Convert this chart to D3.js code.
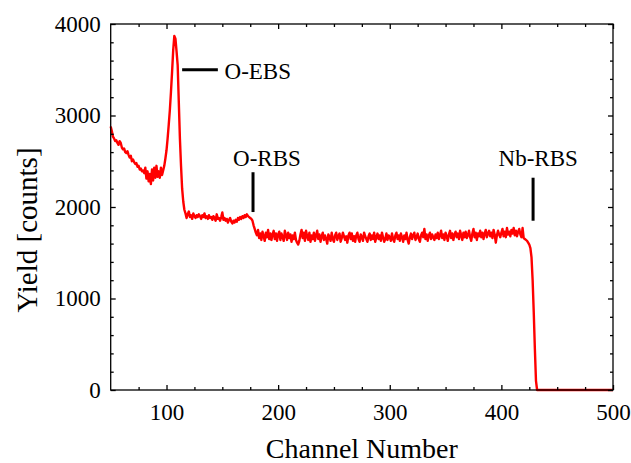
<!DOCTYPE html>
<html>
<head>
<meta charset="utf-8">
<script src="https://cdn.jsdelivr.net/npm/d3@7"></script>
<style>
  html, body { margin: 0; padding: 0; background: #fff; }
  svg { display: block; }
</style>
</head>
<body>
<svg id="chart" width="631" height="463"></svg>
<script>
// ---- data ----
const channelStart = 50;
const yields = [
  2880, 2830, 2770, 2750, 2720, 2730, 2700, 2680, 2720, 2700,
  2650, 2630, 2640, 2600, 2590, 2610, 2570, 2540, 2560, 2500,
  2520, 2490, 2470, 2480, 2440, 2450, 2410, 2420, 2390, 2400,
  2370, 2430, 2310, 2390, 2280, 2360, 2250, 2410, 2290, 2430,
  2320, 2450, 2330, 2390, 2320, 2430, 2350,
  2400, 2450, 2530, 2620, 2750, 2900, 3060, 3260, 3480, 3715, 3870, 3840, 3700, 3550, 3150, 2750, 2450, 2200, 2060, 1970, 1930,
  1880, 1920, 1950, 1890, 1910, 1870, 1930, 1900, 1880, 1910, 1890, 1920,
  1900, 1870, 1910, 1890, 1930, 1880, 1900, 1870, 1910, 1880,
  1890, 1860, 1900, 1880, 1850, 1920, 1870, 1880, 1850, 1890,
  1940, 1860, 1880, 1850, 1870, 1830, 1860, 1880, 1840, 1820,
  1850, 1830, 1860, 1840, 1880, 1860, 1890, 1870, 1900, 1880,
  1910, 1890, 1920, 1900, 1890, 1880, 1870, 1850, 1800, 1760,
  1720, 1690, 1750, 1660, 1710, 1640, 1730, 1680, 1630, 1720,
  1670, 1750, 1650, 1710, 1640, 1700, 1740, 1650, 1710, 1630,
  1700, 1730, 1640, 1710, 1670, 1630, 1740, 1690, 1640, 1720,
  1660, 1700, 1620, 1690, 1650, 1720, 1640, 1610, 1590, 1630,
  1700, 1750, 1660, 1720, 1630, 1740, 1680, 1640, 1720, 1620,
  1690, 1650, 1720, 1630, 1690, 1740, 1650, 1700, 1620, 1680,
  1720, 1640, 1690, 1650, 1600, 1700, 1670, 1630, 1720, 1650,
  1620, 1690, 1720, 1640, 1680, 1710, 1620, 1660, 1720, 1680,
  1640, 1680, 1610, 1690, 1720, 1650, 1710, 1630, 1680, 1620,
  1690, 1720, 1650, 1620, 1700, 1670, 1630, 1720, 1680, 1650,
  1620, 1680, 1710, 1640, 1690, 1650, 1720, 1620, 1670, 1710,
  1650, 1690, 1630, 1720, 1670, 1620, 1650, 1710, 1640, 1690,
  1670, 1630, 1710, 1650, 1620, 1690, 1720, 1650, 1690, 1630,
  1710, 1670, 1620, 1690, 1650, 1720, 1640, 1600, 1670, 1710,
  1650, 1690, 1720, 1640, 1670, 1710, 1650, 1620, 1690, 1720,
  1670, 1760, 1650, 1700, 1630, 1690, 1720, 1650, 1700, 1670,
  1640, 1700, 1660, 1720, 1650, 1690, 1740, 1660, 1700, 1640,
  1720, 1680, 1630, 1700, 1740, 1660, 1710, 1640, 1700, 1730,
  1670, 1710, 1650, 1740, 1690, 1640, 1720, 1670, 1730, 1660,
  1690, 1740, 1670, 1630, 1710, 1760, 1670, 1720, 1640, 1710,
  1680, 1740, 1670, 1720, 1650, 1710, 1750, 1670, 1710, 1740,
  1680, 1720, 1660, 1750, 1700, 1610, 1690, 1740, 1700, 1670,
  1720, 1760, 1680, 1730, 1670, 1770, 1700, 1730, 1680, 1750,
  1710, 1770, 1690, 1740, 1680, 1730, 1760, 1700, 1670, 1770,
  1660, 1650, 1640, 1630, 1610, 1590, 1550, 1450, 1200, 850, 450, 100,
  0, 0, 0, 0, 0, 0, 0, 0, 0, 0,
  0, 0, 0, 0, 0, 0, 0, 0, 0, 0,
  0, 0, 0, 0, 0, 0, 0, 0, 0, 0,
  0, 0, 0, 0, 0, 0, 0, 0, 0, 0,
  0, 0, 0, 0, 0, 0, 0, 0, 0, 0,
  0, 0, 0, 0, 0, 0, 0, 0, 0, 0,
  0, 0, 0, 0, 0, 0, 0, 0, 0
];
const xTicks = [100, 200, 300, 400, 500];
const xMinorTicks = [75, 125, 150, 175, 225, 250, 275, 325, 350, 375, 425, 450, 475];
const yTicks = [0, 1000, 2000, 3000, 4000];
const yMinorTicks = [200, 400, 600, 800, 1200, 1400, 1600, 1800, 2200, 2400, 2600, 2800, 3200, 3400, 3600, 3800];
const annotations = [
  { label: "O-EBS", line: [[114, 3500], [146, 3500]], text: [152, 3400], anchor: "start" },
  { label: "O-RBS", line: [[177.5, 2380], [177.5, 1945]], text: [190, 2450], anchor: "middle" },
  { label: "Nb-RBS", line: [[428.4, 2320], [428.4, 1850]], text: [433, 2450], anchor: "middle" }
];

// ---- layout ----
const svg = d3.select("#chart");
const pL = 110.7, pR = 613, pT = 24, pB = 390;
const x = d3.scaleLinear().domain([50, 500]).range([pL, pR]);
const y = d3.scaleLinear().domain([0, 4000]).range([pB, pT]);
const serif = "'Liberation Serif', 'Times New Roman', Times, serif";

const data = yields.map((v, i) => ({ c: channelStart + i, v }));

// data line
svg.append("path")
  .datum(data)
  .attr("fill", "none")
  .attr("stroke", "#ff0000")
  .attr("stroke-width", 2.4)
  .attr("stroke-linejoin", "round")
  .attr("d", d3.line().x(d => x(d.c)).y(d => y(d.v)));

function styleAxis(g) {
  g.select(".domain").remove();
  g.attr("font-family", null);
  g.selectAll("line").attr("stroke", "#000").attr("stroke-width", 1.3);
}
const fs = 23;
// bottom
svg.append("g").attr("transform", `translate(0,${pB})`)
  .call(d3.axisBottom(x).tickValues(xTicks).tickSizeInner(-5).tickSizeOuter(0).tickPadding(14).tickFormat(d3.format("d")))
  .call(styleAxis)
  .call(g => g.selectAll("text").attr("font-size", fs));
svg.append("g").attr("transform", `translate(0,${pB})`)
  .call(d3.axisBottom(x).tickValues(xMinorTicks).tickSizeInner(-3).tickSizeOuter(0).tickFormat(""))
  .call(styleAxis);
// top
svg.append("g").attr("transform", `translate(0,${pT})`)
  .call(d3.axisTop(x).tickValues(xTicks).tickSizeInner(-5).tickSizeOuter(0).tickFormat(""))
  .call(styleAxis);
svg.append("g").attr("transform", `translate(0,${pT})`)
  .call(d3.axisTop(x).tickValues(xMinorTicks).tickSizeInner(-3).tickSizeOuter(0).tickFormat(""))
  .call(styleAxis);
// left
svg.append("g").attr("transform", `translate(${pL},0)`)
  .call(d3.axisLeft(y).tickValues(yTicks).tickSizeInner(-5).tickSizeOuter(0).tickPadding(10).tickFormat(d3.format("d")))
  .call(styleAxis)
  .call(g => g.selectAll("text").attr("font-size", fs));
svg.append("g").attr("transform", `translate(${pL},0)`)
  .call(d3.axisLeft(y).tickValues(yMinorTicks).tickSizeInner(-3).tickSizeOuter(0).tickFormat(""))
  .call(styleAxis);
// right
svg.append("g").attr("transform", `translate(${pR},0)`)
  .call(d3.axisRight(y).tickValues(yTicks).tickSizeInner(-5).tickSizeOuter(0).tickFormat(""))
  .call(styleAxis);
svg.append("g").attr("transform", `translate(${pR},0)`)
  .call(d3.axisRight(y).tickValues(yMinorTicks).tickSizeInner(-3).tickSizeOuter(0).tickFormat(""))
  .call(styleAxis);

// frame
svg.append("rect")
  .attr("x", pL).attr("y", pT)
  .attr("width", pR - pL).attr("height", pB - pT)
  .attr("fill", "none").attr("stroke", "#000").attr("stroke-width", 1.3);

// axis titles
svg.append("text")
  .attr("x", (pL + pR) / 2).attr("y", 458)
  .attr("text-anchor", "middle").attr("font-size", 28)
  .text("Channel Number");
svg.append("text")
  .attr("transform", `translate(37,230) rotate(-90)`)
  .attr("text-anchor", "middle").attr("font-size", 29)
  .text("Yield [counts]");

// annotations
annotations.forEach(a => {
  svg.append("line")
    .attr("x1", x(a.line[0][0])).attr("y1", y(a.line[0][1]))
    .attr("x2", x(a.line[1][0])).attr("y2", y(a.line[1][1]))
    .attr("stroke", "#000").attr("stroke-width", 3);
  svg.append("text")
    .attr("x", x(a.text[0])).attr("y", y(a.text[1]))
    .attr("text-anchor", a.anchor).attr("font-size", 23)
    .text(a.label);
});

svg.selectAll("text").style("font-family", serif).style("fill", "#000");
</script>
</body>
</html>
